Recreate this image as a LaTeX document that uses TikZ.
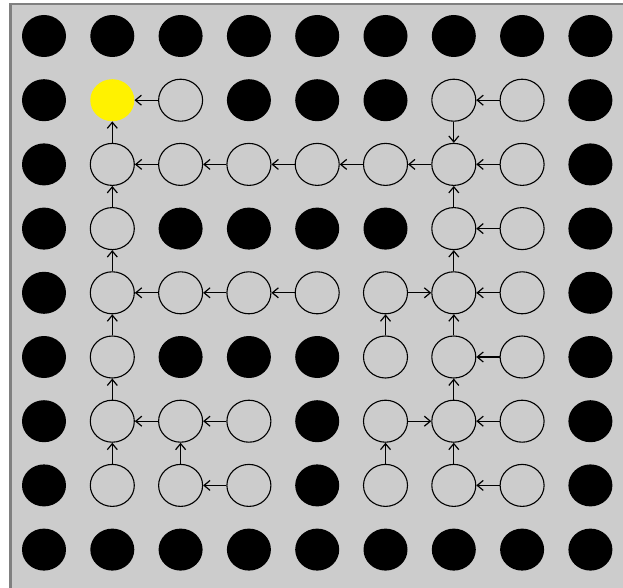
\documentclass[tikz,border=0pt]{standalone}
\usetikzlibrary{shapes.geometric,arrows.meta}
\definecolor{bg}{RGB}{204,204,204}
\definecolor{framegray}{RGB}{128,128,128}
\begin{document}
\begin{tikzpicture}[x=1pt,y=-1pt,
  cell/.style={ellipse,minimum width=44pt,minimum height=42pt,inner sep=0pt},
  wall/.style={cell,fill=black},
  opencell/.style={cell,draw=black,line width=1.1pt},
  goal/.style={cell,fill=yellow},
  link/.style={-{Straight Barb[length=6pt,width=10pt]},line width=1.2pt}]
\useasboundingbox (0,0) rectangle (623,588);
\fill[white] (0,0) rectangle (623,588);
\fill[bg] (9,3) rectangle (623,588);
\draw[framegray,line width=2.5pt] (10.25,588) -- (10.25,4.25) -- (623,4.25);
% walls
\foreach \r/\c in {0/0,0/1,0/2,0/3,0/4,0/5,0/6,0/7,0/8,
  8/0,8/1,8/2,8/3,8/4,8/5,8/6,8/7,8/8,
  1/0,2/0,3/0,4/0,5/0,6/0,7/0,
  1/8,2/8,3/8,4/8,5/8,6/8,7/8,
  1/3,1/4,1/5,3/2,3/3,3/4,3/5,5/2,5/3,5/4,6/4,7/4}
  \node[wall] (n\r\c) at ({44+68.3*\c},{36+64.2*\r}) {};
% open cells
\foreach \r/\c in {1/2,1/6,1/7,
  2/1,2/2,2/3,2/4,2/5,2/6,2/7,
  3/1,3/6,3/7,
  4/1,4/2,4/3,4/4,4/5,4/6,4/7,
  5/1,5/5,5/6,5/7,
  6/1,6/2,6/3,6/5,6/6,6/7,
  7/1,7/2,7/3,7/5,7/6,7/7}
  \node[opencell] (n\r\c) at ({44+68.3*\c},{36+64.2*\r}) {};
% goal
\node[goal] (n11) at ({44+68.3*1},{36+64.2*1}) {};
% links
\foreach \a/\b in {12/11,17/16,16/26,22/21,23/22,24/23,25/24,26/25,27/26,
  21/11,31/21,36/26,37/36,46/36,42/41,43/42,44/43,45/46,47/46,
  41/31,51/41,55/45,56/46,57/56,66/56,61/51,62/61,63/62,71/61,72/62,
  65/66,67/66,75/65,76/66,73/72,77/76}
  \draw[link] (n\a) -- (n\b);
\end{tikzpicture}
\end{document}
